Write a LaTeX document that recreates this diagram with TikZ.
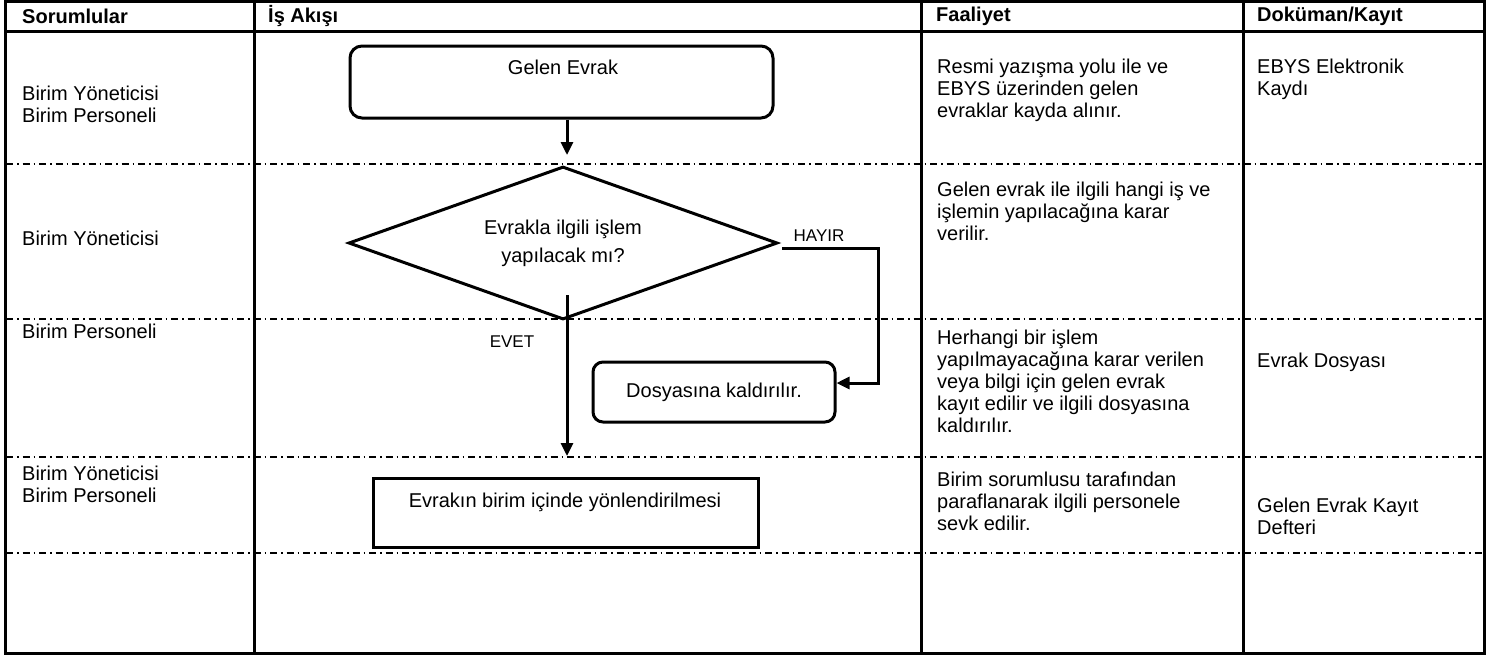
\documentclass[tikz,border=0pt]{standalone}
\usepackage{fontspec}
\setmainfont{Liberation Sans}
\usetikzlibrary{shapes.geometric,arrows.meta}
\begin{document}
\begin{tikzpicture}[x=1pt,y=-1pt,
  txt/.style={font=\fontsize{20}{22}\selectfont, align=left, inner sep=0pt, anchor=north west},
  hdr/.style={font=\fontsize{20}{22}\selectfont\bfseries, inner sep=0pt, anchor=west},
  frame/.style={line width=3.5pt},
  col/.style={line width=3pt},
  sep/.style={line width=1.3pt, dash pattern=on 7pt off 4pt on 1.5pt off 4pt},
  box/.style={draw, line width=3pt, inner sep=0pt},
  conn/.style={line width=3pt},
  arr/.style={conn, -{Triangle[length=13pt,width=12pt]}},
  lbl/.style={font=\fontsize{17}{19}\selectfont, inner sep=0pt},
  ctxt/.style={font=\fontsize{20}{22}\selectfont, inner sep=0pt}
]
\useasboundingbox (0,0) rectangle (1490,657);
\fill[white] (0,0) rectangle (1490,657);

% row separators
\draw[sep] (6,164) -- (1484,164);
\draw[sep] (6,319) -- (1484,319);
\draw[sep] (6,457) -- (1484,457);
\draw[sep] (6,553) -- (1484,553);

% table frame
\draw[frame] (5.5,1.5) rectangle (1484.5,653.5);
\draw[col] (5.5,31) -- (1484.5,31);
\draw[col] (254,1.5) -- (254,653.5);
\draw[col] (921,1.5) -- (921,653.5);
\draw[col] (1243,1.5) -- (1243,653.5);

% headers
\node[hdr] (h1) at (22,16) {Sorumlular};
\node[hdr] (h2) at (268,16) {İş Akışı};
\node[hdr] (h3) at (936,16) {Faaliyet};
\node[hdr] (h4) at (1257,16) {Doküman/Kayıt};

% Sorumlular
\node[txt] (s1) at (22,85) {\strut Birim Yöneticisi\\Birim Personeli};
\node[txt] (s2) at (22,230) {\strut Birim Yöneticisi};
\node[txt] (s3) at (22,323) {\strut Birim Personeli};
\node[txt] (s4) at (22,465) {\strut Birim Yöneticisi\\Birim Personeli};

% Faaliyet
\node[txt] (f1) at (937,58) {\strut Resmi yazışma yolu ile ve\\EBYS üzerinden gelen\\evraklar kayda alınır.};
\node[txt] (f2) at (937,181) {\strut Gelen evrak ile ilgili hangi iş ve\\işlemin yapılacağına karar\\verilir.};
\node[txt] (f3) at (937,329) {\strut Herhangi bir işlem\\yapılmayacağına karar verilen\\veya bilgi için gelen evrak\\kayıt edilir ve ilgili dosyasına\\kaldırılır.};
\node[txt] (f4) at (937,471) {\strut Birim sorumlusu tarafından\\paraflanarak ilgili personele\\sevk edilir.};

% Doküman/Kayıt
\node[txt] (d1) at (1257,58) {\strut EBYS Elektronik\\Kaydı};
\node[txt] (d3) at (1257,352) {\strut Evrak Dosyası};
\node[txt] (d4) at (1257,497) {\strut Gelen Evrak Kayıt\\Defteri};

% flow
\node[box, rounded corners=12pt, minimum width=423pt, minimum height=72pt] (gelen) at (561.5,82) {};
\node[ctxt] (gelentxt) at (563,67) {Gelen Evrak};

\node[draw, diamond, line width=3pt, minimum width=429pt, minimum height=153pt, inner sep=0pt, aspect=2.8, align=center, font=\fontsize{20}{28}\selectfont] (dec) at (563,243) {Evrakla ilgili işlem\\yapılacak mı?};

\node[box, rounded corners=10pt, minimum width=242pt, minimum height=60pt, font=\fontsize{20}{22}\selectfont] (dosya) at (714,392) {Dosyasına kaldırılır.};

\node[box, minimum width=385pt, minimum height=69pt] (yon) at (565.5,512.5) {};
\node[ctxt] (yontxt) at (565,502) {Evrakın birim içinde yönlendirilmesi};

\coordinate (a1) at (567,155);
\draw[arr] (gelen.south -| a1) -- (a1);

\coordinate (e0) at (567,295);
\coordinate (e1) at (567,456);
\draw[arr] (e0) -- (e1);

\coordinate (h0) at (782,248);
\coordinate (hc1) at (878,248);
\coordinate (hc2) at (878,383);
\draw[arr] (h0) -- (hc1) -- (hc2) -- (dosya.east |- hc2);

\node[lbl] (hayir) at (819,236) {HAYIR};
\node[lbl] (evet) at (512,342) {EVET};
\end{tikzpicture}
\end{document}
